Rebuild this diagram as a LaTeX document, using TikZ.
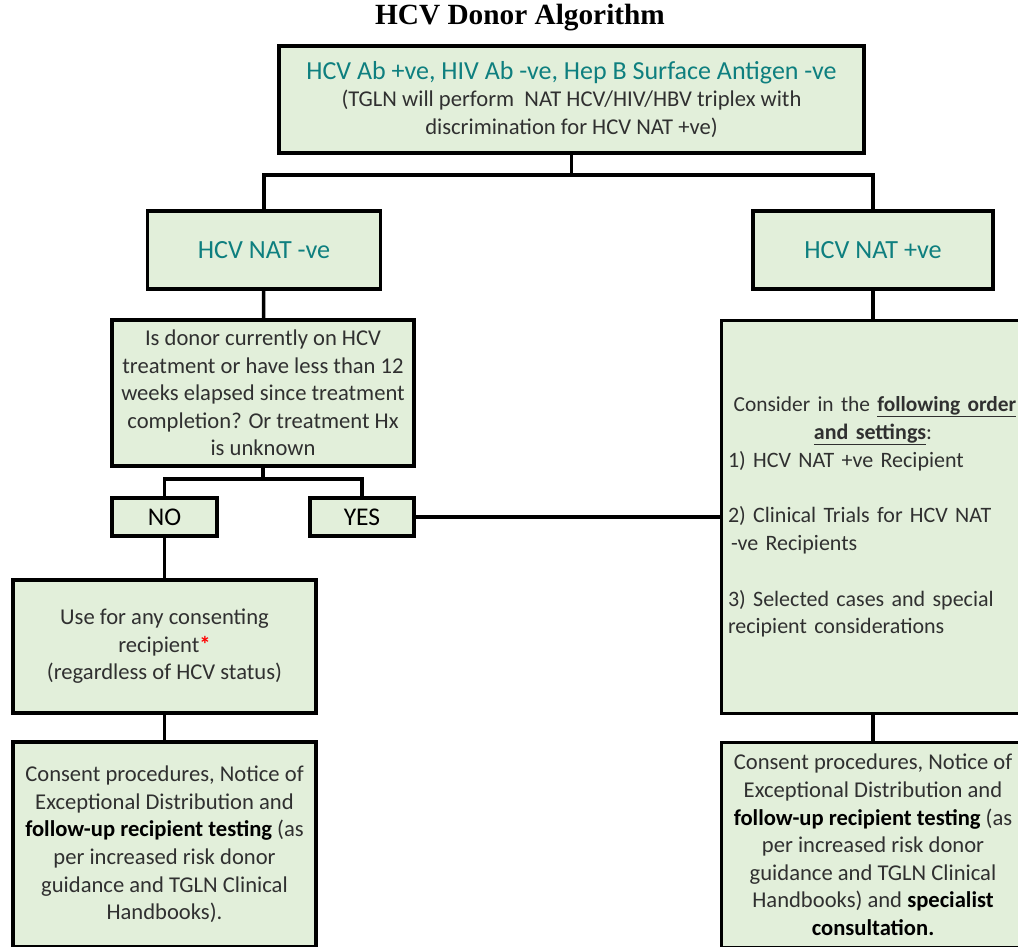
\documentclass[tikz,border=0pt]{standalone}
\usepackage{fontspec}
\setmainfont{Carlito}
\newfontfamily\titlefont{Liberation Serif}
\usetikzlibrary{positioning}
\definecolor{boxgreen}{HTML}{E2EFDA}
\definecolor{headteal}{HTML}{0E7F7F}
\definecolor{bodygray}{HTML}{303030}
\newcommand{\bk}[1]{\textcolor{black}{\textbf{#1}}}
\tikzset{
  box/.style={draw, line width=3.5pt, fill=boxgreen, inner sep=0pt, align=center,
    text=bodygray, font={\fontsize{22.6}{27.6}\selectfont}},
  head/.style={text=headteal, font={\fontsize{26.2}{30}\selectfont}},
  answer/.style={text=black, font={\fontsize{25.5}{28}\selectfont}},
  link/.style={line width=3.5pt},
}

\begin{document}
\begin{tikzpicture}[x=1pt, y=-1pt]
    \useasboundingbox (0,0) rectangle (1018,947);
    \clip (0,0) rectangle (1018,947);
    \node[font={\titlefont\bfseries\fontsize{29.3}{30}\selectfont}] (title) at (520,18) {HCV Donor Algorithm};
    \node[box, minimum width=585pt, minimum height=107pt] (top) at (571.5,99.5)
      {{\color{headteal}\fontsize{26}{30}\selectfont HCV Ab +ve, HIV Ab -ve, Hep B Surface Antigen -ve}\\
       (TGLN will perform~ NAT HCV/HIV/HBV triplex with\\ discrimination for HCV NAT +ve)};
    \node[box, head, minimum width=233pt, minimum height=78pt] (neg) at (264,250) {HCV NAT -ve};
    \node[box, head, minimum width=240pt, minimum height=78pt] (pos) at (873,250) {HCV NAT +ve};
    \node[box, minimum width=302pt, minimum height=146pt] (ask) at (263,393)
      {Is donor currently on HCV\\ treatment or have less than 12\\ weeks elapsed since treatment\\
       completion? Or treatment Hx\\ is unknown};
    \node[box, answer, minimum width=105pt, minimum height=38pt] (no) at (164.5,517) {NO};
    \node[box, answer, minimum width=104pt, minimum height=38pt] (yes) at (362,517) {YES};
    \node[box, minimum width=303pt, minimum height=133pt] (use) at (164.5,646.5)
      {Use for any consenting\\ recipient\textcolor{red}{\textbf{*}}\\ (regardless of HCV status)};
    \node[box, minimum width=303pt, minimum height=205pt] (consentL) at (164.5,844.5)
      {Consent procedures, Notice of\\ Exceptional Distribution and\\
       \bk{follow-up recipient testing} (as\\ per increased risk donor\\
       guidance and TGLN Clinical\\ Handbooks).};
    \node[box, align=left, text width=290pt, minimum width=303pt, minimum height=393pt,
      font={\fontsize{22}{27.8}\selectfont}] (order) at (873,517)
      {{\centering \makebox[\linewidth]{\fontsize{21.4}{27.8}\selectfont\hspace*{4pt}Consider in the \underline{\textbf{following order}}}\\
        \underline{\textbf{and settings}}:\par}
       1) HCV NAT +ve Recipient\\[27.8pt]
       2) Clinical Trials for HCV NAT\\ \hspace*{3pt}-ve Recipients\\[27.8pt]
       3) Selected cases and special\\ recipient considerations};
    \node[box, minimum width=303pt, minimum height=205pt] (consentR) at (873,845)
      {Consent procedures, Notice of\\ Exceptional Distribution and\\
       \bk{follow-up recipient testing} (as\\ per increased risk donor\\
       guidance and TGLN Clinical\\ Handbooks) and \bk{specialist}\\ \bk{consultation.}};
    % connectors
    \coordinate (split) at (571.5,175);
    \coordinate (asksplit) at (263,479);
    \draw[link] (top) -- (split);
    \draw[link] (split) -| (neg);
    \draw[link] (split) -| (pos);
    \draw[link] (neg) -- (ask);
    \draw[link] (pos) -- (order);
    \draw[link] (ask) -- (asksplit);
    \draw[link] (asksplit) -| (no);
    \draw[link] (asksplit) -| (yes);
    \draw[link] (yes) -- (order);
    \draw[link] (no) -- (use);
    \draw[link] (use) -- (consentL);
    \draw[link] (order) -- (consentR);
\end{tikzpicture}
\end{document}
